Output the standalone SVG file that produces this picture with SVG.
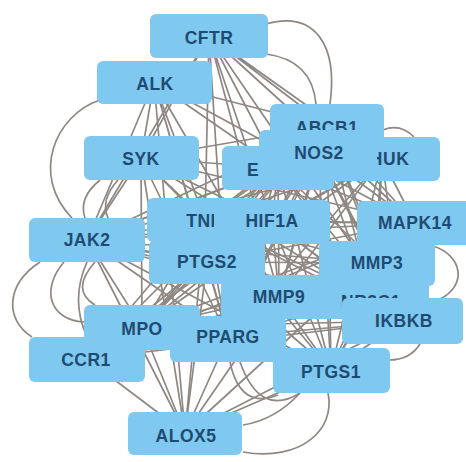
<svg xmlns="http://www.w3.org/2000/svg" width="466" height="462" viewBox="0 0 466 462">
<style>
.n rect{fill:#7fc8ef}
.n text{font-family:"Liberation Sans",Arial,sans-serif;font-size:17.5px;font-weight:bold;fill:#1f4b72;text-anchor:middle;letter-spacing:0.5px}
.e path{fill:none;stroke:#8f8782;stroke-width:1.7}
</style>
<rect width="466" height="462" fill="#ffffff"/>
<g class="e" id="connectors">
<path d="M209 36L141 158M209 36L327 126M209 36L278 168M209 36L382 159M209 36L205 220M209 36L272 222M209 36L279 297M209 36L415 223M209 36L404 321M209 36L87 240M209 36L228 337"/>
<path d="M154 82L141 158M154 82L327 126M154 82L278 168M154 82L205 220M154 82L207 262M154 82L279 297M154 82L415 223M154 82L87 240M154 82L228 337M154 82L185 433"/>
<path d="M141 158L327 126M141 158L278 168M141 158L205 220M141 158L272 222M141 158L279 297M141 158L415 223M141 158L404 321M141 158L87 240M141 158L142 327M141 158L228 337M141 158L185 433"/>
<path d="M327 126L318 152M327 126L278 168M327 126L382 159M327 126L205 220M327 126L272 222M327 126L207 262M327 126L279 297M327 126L415 223M327 126L377 263M327 126L371 297M327 126L404 321M327 126L87 240M327 126L142 327M327 126L228 337M327 126L331 370"/>
<path d="M318 152L278 168M318 152L382 159M318 152L205 220M318 152L272 222M318 152L207 262M318 152L279 297M318 152L415 223M318 152L377 263M318 152L371 297M318 152L404 321M318 152L87 240M318 152L142 327M318 152L228 337M318 152L331 370"/>
<path d="M278 168L382 159M278 168L205 220M278 168L272 222M278 168L207 262M278 168L279 297M278 168L415 223M278 168L377 263M278 168L371 297M278 168L404 321M278 168L87 240M278 168L142 327M278 168L87 359M278 168L228 337M278 168L331 370"/>
<path d="M382 159L205 220M382 159L272 222M382 159L207 262M382 159L279 297M382 159L415 223M382 159L377 263M382 159L371 297M382 159L404 321M382 159L87 240M382 159L142 327M382 159L228 337M382 159L331 370"/>
<path d="M205 220L272 222M205 220L207 262M205 220L279 297M205 220L415 223M205 220L377 263M205 220L371 297M205 220L404 321M205 220L87 240M205 220L142 327M205 220L87 359M205 220L228 337M205 220L331 370M205 220L185 433"/>
<path d="M272 222L207 262M272 222L279 297M272 222L415 223M272 222L377 263M272 222L371 297M272 222L404 321M272 222L87 240M272 222L142 327M272 222L87 359M272 222L228 337M272 222L331 370"/>
<path d="M207 262L279 297M207 262L415 223M207 262L377 263M207 262L371 297M207 262L404 321M207 262L87 240M207 262L142 327M207 262L87 359M207 262L228 337M207 262L331 370M207 262L185 433"/>
<path d="M279 297L415 223M279 297L377 263M279 297L371 297M279 297L404 321M279 297L87 240M279 297L142 327M279 297L87 359M279 297L228 337M279 297L331 370M279 297L185 433"/>
<path d="M415 223L377 263M415 223L371 297M415 223L404 321M415 223L87 240M415 223L142 327M415 223L87 359M415 223L228 337M415 223L331 370M415 223L185 433"/>
<path d="M377 263L371 297M377 263L404 321M377 263L87 240M377 263L142 327M377 263L87 359M377 263L228 337M377 263L331 370"/>
<path d="M371 297L404 321M371 297L87 240M371 297L142 327M371 297L87 359M371 297L228 337M371 297L331 370"/>
<path d="M404 321L87 240M404 321L142 327M404 321L87 359M404 321L228 337M404 321L331 370M404 321L185 433"/>
<path d="M87 240L142 327M87 240L228 337M87 240L331 370M87 240L185 433"/>
<path d="M142 327L87 359M142 327L228 337M142 327L331 370M142 327L185 433"/>
<path d="M87 359L228 337M87 359L185 433"/>
<path d="M228 337L331 370M228 337L185 433M331 370L185 433"/>
<path d="M100 100C55 115 30 175 72 218"/>
<path d="M100 180Q78 198 85 218"/>
<path d="M118 180Q100 200 108 218"/>
<path d="M266 24C315 10 338 45 330 104"/>
<path d="M266 54Q312 60 316 104"/>
<path d="M383 130Q400 123 414 137"/>
<path d="M433 246C462 255 468 285 440 299"/>
<path d="M420 344Q410 360 389 360"/>
<path d="M40 262C5 285 5 320 32 337"/>
<path d="M64 262C40 290 50 320 84 322"/>
<path d="M95 262Q70 290 95 305"/>
<path d="M87 262Q70 300 87 337"/>
<path d="M328 393C336 430 300 462 243 452"/>
<path d="M243 425Q275 420 300 393"/>
<path d="M230 362Q240 410 278 395"/>
<path d="M240 362Q260 418 300 393"/>
</g>
<g class="n" id="node-CFTR"><rect x="150" y="14" width="118" height="44" rx="6"/><text x="209" y="44">CFTR</text></g>
<g class="n" id="node-ALK"><rect x="97" y="61" width="115" height="43" rx="6"/><text x="155" y="90">ALK</text></g>
<g class="n" id="node-SYK"><rect x="84" y="136" width="115" height="44" rx="6"/><text x="141" y="165">SYK</text></g>
<g class="n" id="node-ABCB1"><rect x="270" y="104" width="114" height="44" rx="6"/><text x="327" y="134">ABCB1</text></g>
<g class="n" id="node-CHUK"><rect x="324" y="137" width="116" height="44" rx="6"/><text x="383" y="165">CHUK</text></g>
<g class="n" id="node-E"><rect x="222" y="146" width="112" height="44" rx="6"/><text x="247" y="176" style="text-anchor:start">E</text></g>
<g class="n" id="node-NOS2"><rect x="259" y="130" width="118" height="45" rx="6"/><text x="319" y="159">NOS2</text></g>
<g class="n" id="node-JAK2"><rect x="29" y="218" width="116" height="44" rx="6"/><text x="87" y="246">JAK2</text></g>
<g class="n" id="node-TNF"><rect x="147" y="198" width="116" height="44" rx="6"/><text x="204" y="227">TNF</text></g>
<g class="n" id="node-HIF1A"><rect x="214" y="200" width="116" height="44" rx="6"/><text x="272" y="227">HIF1A</text></g>
<g class="n" id="node-PTGS2"><rect x="149" y="240" width="116" height="44" rx="6"/><text x="207" y="268">PTGS2</text></g>
<g class="n" id="node-MAPK14"><rect x="357" y="201" width="116" height="44" rx="6"/><text x="415" y="229">MAPK14</text></g>
<g class="n" id="node-MMP3"><rect x="319" y="241" width="116" height="45" rx="6"/><text x="377" y="269">MMP3</text></g>
<g class="n" id="node-NR3C1"><rect x="313" y="275" width="116" height="44" rx="6"/><text x="371" y="308">NR3C1</text></g>
<g class="n" id="node-MMP9"><rect x="221" y="275" width="116" height="44" rx="6"/><text x="279" y="303">MMP9</text></g>
<g class="n" id="node-IKBKB"><rect x="342" y="298" width="121" height="46" rx="6"/><text x="404" y="327">IKBKB</text></g>
<g class="n" id="node-MPO"><rect x="84" y="305" width="116" height="45" rx="6"/><text x="142" y="335">MPO</text></g>
<g class="n" id="node-CCR1"><rect x="29" y="337" width="116" height="45" rx="6"/><text x="86" y="366">CCR1</text></g>
<g class="n" id="node-PPARG"><rect x="170" y="316" width="116" height="46" rx="6"/><text x="228" y="343">PPARG</text></g>
<g class="n" id="node-PTGS1"><rect x="273" y="348" width="117" height="45" rx="6"/><text x="331" y="378">PTGS1</text></g>
<g class="n" id="node-ALOX5"><rect x="128" y="412" width="114" height="43" rx="6"/><text x="186" y="442">ALOX5</text></g>
</svg>
